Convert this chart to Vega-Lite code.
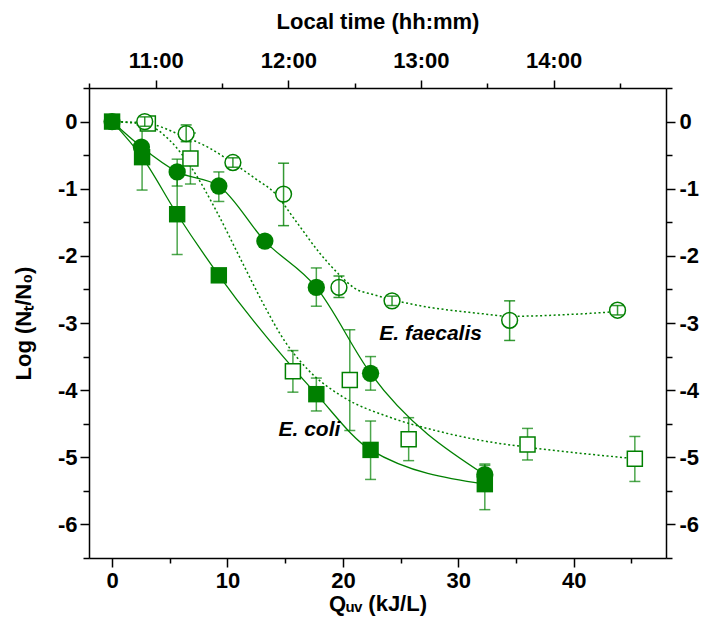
{
  "$schema": "https://vega.github.io/schema/vega-lite/v6.json",
  "autosize": {"type": "none"},
  "width": 577,
  "height": 470,
  "padding": {"left": 89, "top": 88, "right": 40, "bottom": 82},
  "background": "white",
  "config": {
    "view": {"stroke": null},
    "font": "Liberation Sans",
    "axis": {
      "grid": false,
      "domainColor": "black",
      "domainWidth": 1.5,
      "tickColor": "black",
      "tickWidth": 1.5,
      "labelFont": "Liberation Sans",
      "labelFontWeight": "bold",
      "labelFontSize": 22,
      "labelColor": "black",
      "titleFont": "Liberation Sans",
      "titleFontWeight": "bold",
      "titleFontSize": 22,
      "titleColor": "black",
      "labelFlush": false,
      "labelOverlap": false
    }
  },
  "datasets": {
    "pts": [
      {"s": "coli_filled", "x": 0, "y": 0, "lo": 0, "hi": 0},
      {"s": "coli_filled", "x": 2.6, "y": -0.53, "lo": -1.02, "hi": -0.05},
      {"s": "coli_filled", "x": 5.64, "y": -1.38, "lo": -1.98, "hi": -0.78},
      {"s": "coli_filled", "x": 9.25, "y": -2.29, "lo": -2.36, "hi": -2.22},
      {"s": "coli_filled", "x": 17.7, "y": -4.06, "lo": -4.31, "hi": -3.82},
      {"s": "coli_filled", "x": 22.4, "y": -4.89, "lo": -5.33, "hi": -4.46},
      {"s": "coli_filled", "x": 32.3, "y": -5.4, "lo": -5.78, "hi": -5.1},
      {"s": "coli_open", "x": 3.1, "y": -0.03, "lo": -0.1, "hi": 0.04},
      {"s": "coli_open", "x": 6.79, "y": -0.55, "lo": -0.93, "hi": -0.17},
      {"s": "coli_open", "x": 15.67, "y": -3.72, "lo": -4.03, "hi": -3.41},
      {"s": "coli_open", "x": 20.6, "y": -3.85, "lo": -4.6, "hi": -3.1},
      {"s": "coli_open", "x": 25.7, "y": -4.73, "lo": -5.05, "hi": -4.41},
      {"s": "coli_open", "x": 36.0, "y": -4.81, "lo": -5.04, "hi": -4.57},
      {"s": "coli_open", "x": 45.3, "y": -5.02, "lo": -5.36, "hi": -4.69},
      {"s": "faec_filled", "x": 0, "y": 0, "lo": 0, "hi": 0},
      {"s": "faec_filled", "x": 2.54, "y": -0.38, "lo": -0.38, "hi": -0.38},
      {"s": "faec_filled", "x": 5.64, "y": -0.75, "lo": -0.96, "hi": -0.56},
      {"s": "faec_filled", "x": 9.25, "y": -0.96, "lo": -1.19, "hi": -0.75},
      {"s": "faec_filled", "x": 13.24, "y": -1.78, "lo": -1.78, "hi": -1.78},
      {"s": "faec_filled", "x": 17.7, "y": -2.47, "lo": -2.75, "hi": -2.18},
      {"s": "faec_filled", "x": 22.4, "y": -3.75, "lo": -4.0, "hi": -3.5},
      {"s": "faec_filled", "x": 32.3, "y": -5.26, "lo": -5.4, "hi": -5.12},
      {"s": "faec_open", "x": 2.83, "y": 0.0, "lo": -0.07, "hi": 0.07},
      {"s": "faec_open", "x": 6.42, "y": -0.18, "lo": -0.3, "hi": -0.05},
      {"s": "faec_open", "x": 10.47, "y": -0.61, "lo": -0.68, "hi": -0.54},
      {"s": "faec_open", "x": 14.86, "y": -1.08, "lo": -1.55, "hi": -0.62},
      {"s": "faec_open", "x": 19.66, "y": -2.47, "lo": -2.62, "hi": -2.3},
      {"s": "faec_open", "x": 24.26, "y": -2.67, "lo": -2.74, "hi": -2.6},
      {"s": "faec_open", "x": 34.45, "y": -2.96, "lo": -3.26, "hi": -2.67},
      {"s": "faec_open", "x": 43.8, "y": -2.81, "lo": -2.88, "hi": -2.74}
    ],
    "fits": [
      {"s": "coli_open", "x": 0, "y": 0},
      {"s": "coli_open", "x": 3, "y": -0.05},
      {"s": "coli_open", "x": 5, "y": -0.28},
      {"s": "coli_open", "x": 7, "y": -0.72},
      {"s": "coli_open", "x": 9, "y": -1.32},
      {"s": "coli_open", "x": 11, "y": -2.0},
      {"s": "coli_open", "x": 13, "y": -2.68},
      {"s": "coli_open", "x": 15, "y": -3.28},
      {"s": "coli_open", "x": 17, "y": -3.7},
      {"s": "coli_open", "x": 20, "y": -4.1},
      {"s": "coli_open", "x": 24, "y": -4.4},
      {"s": "coli_open", "x": 28, "y": -4.6},
      {"s": "coli_open", "x": 32, "y": -4.75},
      {"s": "coli_open", "x": 36, "y": -4.85},
      {"s": "coli_open", "x": 40, "y": -4.93},
      {"s": "coli_open", "x": 45.3, "y": -5.02},
      {"s": "faec_open", "x": 0, "y": 0},
      {"s": "faec_open", "x": 2.8, "y": -0.02},
      {"s": "faec_open", "x": 6.2, "y": -0.22},
      {"s": "faec_open", "x": 8.5, "y": -0.4},
      {"s": "faec_open", "x": 10.5, "y": -0.62},
      {"s": "faec_open", "x": 12.5, "y": -0.86},
      {"s": "faec_open", "x": 14, "y": -1.05},
      {"s": "faec_open", "x": 16, "y": -1.5},
      {"s": "faec_open", "x": 18, "y": -1.96},
      {"s": "faec_open", "x": 19.8, "y": -2.3},
      {"s": "faec_open", "x": 21, "y": -2.48},
      {"s": "faec_open", "x": 22.7, "y": -2.58},
      {"s": "faec_open", "x": 26, "y": -2.72},
      {"s": "faec_open", "x": 32, "y": -2.86},
      {"s": "faec_open", "x": 34.5, "y": -2.9},
      {"s": "faec_open", "x": 40, "y": -2.87},
      {"s": "faec_open", "x": 43.8, "y": -2.83}
    ],
    "labels": [
      {"label": "E. faecalis", "x": 27.6, "y": -3.16},
      {"label": "E. coli", "x": 17.1, "y": -4.59}
    ],
    "axes2": [
      {"t": 11, "v": 0},
      {"t": 14, "v": -6}
    ]
  },
  "resolve": {"scale": {"x": "independent", "y": "independent"}},
  "layer": [
    {
      "encoding": {
        "x": {
          "field": "x", "type": "quantitative",
          "scale": {"domain": [-2, 48], "nice": false, "zero": false},
          "axis": {
            "orient": "bottom",
            "title": "Qᵤᵥ (kJ/L)",
            "values": [0, 5, 10, 15, 20, 25, 30, 35, 40, 45],
            "labelExpr": "datum.value % 10 === 0 ? '' + datum.value : ''",
            "tickSize": {"condition": {"test": "datum.value % 10 === 0", "value": 9}, "value": 5},
            "labelPadding": 3,
            "titlePadding": 2
          }
        },
        "y": {
          "field": "y", "type": "quantitative",
          "scale": {"domain": [-6.5, 0.5], "nice": false, "zero": false},
          "axis": {
            "orient": "left",
            "title": "Log (Nₜ/N₀)",
            "values": [-6.5, -6, -5.5, -5, -4.5, -4, -3.5, -3, -2.5, -2, -1.5, -1, -0.5, 0, 0.5],
            "labelExpr": "datum.value % 1 === 0 ? '' + datum.value : ''",
            "tickSize": {"condition": {"test": "datum.value % 1 === 0", "value": 9}, "value": 6},
            "labelPadding": 3,
            "titlePadding": 22
          }
        }
      },
      "layer": [
        {
          "data": {"name": "fits"},
          "mark": {"type": "line", "interpolate": "monotone", "color": "#008000", "strokeWidth": 1.5, "strokeDash": [2, 2.5]},
          "encoding": {"detail": {"field": "s"}}
        },
        {
          "data": {"name": "pts"},
          "transform": [{"filter": "datum.s === 'coli_filled' || datum.s === 'faec_filled'"}],
          "mark": {"type": "line", "interpolate": "monotone", "color": "#008000", "strokeWidth": 1.3},
          "encoding": {"detail": {"field": "s"}}
        },
        {
          "data": {"name": "pts"},
          "transform": [{"filter": "datum.s !== 'faec_open'"}],
          "layer": [
            {
              "mark": {"type": "rule", "color": "#008000", "opacity": 0.7, "strokeWidth": 1.5},
              "encoding": {"y": {"field": "lo", "type": "quantitative"}, "y2": {"field": "hi"}}
            },
            {
              "mark": {"type": "tick", "orient": "horizontal", "color": "#008000", "opacity": 0.7, "size": 11, "thickness": 1.5},
              "encoding": {"y": {"field": "lo", "type": "quantitative"}}
            },
            {
              "mark": {"type": "tick", "orient": "horizontal", "color": "#008000", "opacity": 0.7, "size": 11, "thickness": 1.5},
              "encoding": {"y": {"field": "hi", "type": "quantitative"}}
            }
          ]
        },
        {
          "data": {"name": "pts"},
          "transform": [{"filter": "datum.s === 'coli_open'"}],
          "mark": {"type": "point", "shape": "square", "size": 225, "filled": true, "fill": "white", "stroke": "#008000", "strokeWidth": 1.5, "opacity": 1}
        },
        {
          "data": {"name": "pts"},
          "transform": [{"filter": "datum.s === 'faec_open'"}],
          "mark": {"type": "point", "shape": "circle", "size": 250, "filled": true, "fill": "white", "stroke": "#008000", "strokeWidth": 1.5, "opacity": 1}
        },
        {
          "data": {"name": "pts"},
          "transform": [{"filter": "datum.s === 'coli_filled'"}],
          "mark": {"type": "point", "shape": "square", "size": 270, "filled": true, "color": "#008000", "opacity": 1}
        },
        {
          "data": {"name": "pts"},
          "transform": [{"filter": "datum.s === 'faec_filled'"}],
          "mark": {"type": "point", "shape": "circle", "size": 300, "filled": true, "color": "#008000", "opacity": 1}
        },
        {
          "data": {"name": "pts"},
          "transform": [{"filter": "datum.s === 'faec_open'"}],
          "layer": [
            {
              "mark": {"type": "rule", "color": "#008000", "opacity": 0.8, "strokeWidth": 1.5},
              "encoding": {"y": {"field": "lo", "type": "quantitative"}, "y2": {"field": "hi"}}
            },
            {
              "mark": {"type": "tick", "orient": "horizontal", "color": "#008000", "opacity": 0.8, "size": 11, "thickness": 1.5},
              "encoding": {"y": {"field": "lo", "type": "quantitative"}}
            },
            {
              "mark": {"type": "tick", "orient": "horizontal", "color": "#008000", "opacity": 0.8, "size": 11, "thickness": 1.5},
              "encoding": {"y": {"field": "hi", "type": "quantitative"}}
            }
          ]
        },
        {
          "data": {"name": "labels"},
          "mark": {"type": "text", "font": "Liberation Sans", "fontSize": 21, "fontWeight": "bold", "fontStyle": "italic", "color": "black", "align": "center", "baseline": "middle"},
          "encoding": {"text": {"field": "label"}}
        }
      ]
    },
    {
      "data": {"name": "axes2"},
      "mark": {"type": "point", "opacity": 0},
      "encoding": {
        "x": {
          "field": "t", "type": "quantitative",
          "scale": {"domain": [10.497, 14.848], "nice": false, "zero": false},
          "axis": {
            "orient": "top",
            "title": "Local time (hh:mm)",
            "values": [10.5, 11, 11.5, 12, 12.5, 13, 13.5, 14, 14.5],
            "labelExpr": "datum.value % 1 === 0 ? datum.value + ':00' : ''",
            "tickSize": {"condition": {"test": "datum.value % 1 === 0", "value": 8}, "value": 5},
            "labelPadding": 8,
            "titlePadding": 16
          }
        },
        "y": {
          "field": "v", "type": "quantitative",
          "scale": {"domain": [-6.5, 0.5], "nice": false, "zero": false},
          "axis": {
            "orient": "right",
            "title": null,
            "values": [-6.5, -6, -5.5, -5, -4.5, -4, -3.5, -3, -2.5, -2, -1.5, -1, -0.5, 0, 0.5],
            "labelExpr": "datum.value % 1 === 0 ? '' + datum.value : ''",
            "tickSize": {"condition": {"test": "datum.value % 1 === 0", "value": 9}, "value": 6},
            "labelPadding": 4
          }
        }
      }
    }
  ]
}
